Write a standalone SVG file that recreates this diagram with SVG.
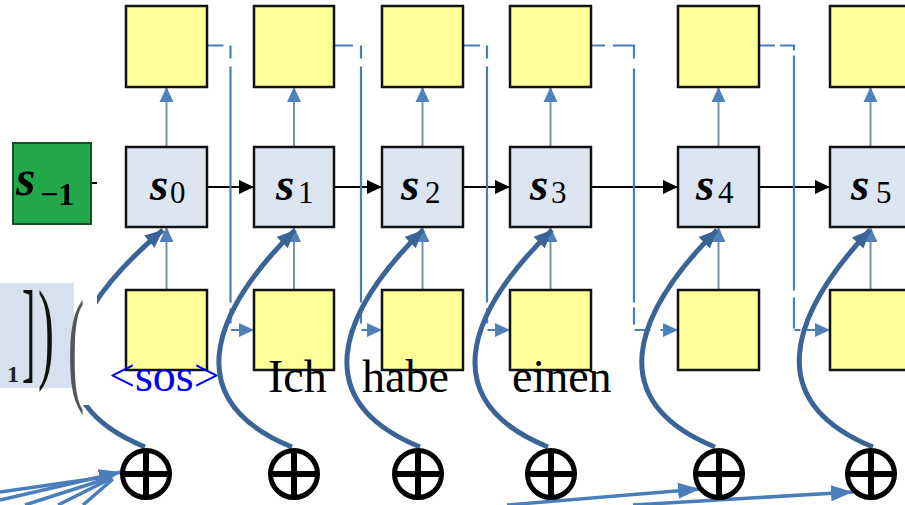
<svg xmlns="http://www.w3.org/2000/svg" width="905" height="505" viewBox="0 0 905 505">
<style>
.yb{fill:#FFFF99;stroke:#111;stroke-width:2.5}
.sb{fill:#DCE6F2;stroke:#111;stroke-width:2.5}
.si{font-family:"Liberation Serif",serif;font-weight:bold;font-style:italic;font-size:47px;fill:#000}
.sub{font-family:"Liberation Serif",serif;font-size:31px;fill:#000}
.word{font-family:"Liberation Serif",serif;font-size:46px;fill:#000}
.thin{stroke:#7A90AE;stroke-width:2;fill:none}
.dash{stroke:#4A7EBB;stroke-width:2.2;fill:none}
.blk{stroke:#000;stroke-width:2;fill:none}
.curve{stroke:#3B6496;stroke-width:5;fill:none}
.fan{stroke:#4A7EBB;stroke-width:3.5;fill:none}
.sum circle{fill:#fff;stroke:#000;stroke-width:5}
.sum line{stroke:#000;stroke-width:6}
</style>
<defs>
<marker id="aBlue" markerUnits="userSpaceOnUse" markerWidth="16" markerHeight="16" viewBox="0 0 16 16" refX="15" refY="8" orient="auto"><path d="M0,1 L15,8 L0,15 Z" fill="#4F81BD"/></marker>
<marker id="aBlk" markerUnits="userSpaceOnUse" markerWidth="16" markerHeight="16" viewBox="0 0 16 16" refX="15" refY="8" orient="auto"><path d="M0,1 L15,8 L0,15 Z" fill="#000"/></marker>
<marker id="aDark" markerUnits="userSpaceOnUse" markerWidth="20" markerHeight="18" viewBox="0 0 20 18" refX="18" refY="9" orient="auto"><path d="M0,1 L18,9 L0,17 Z" fill="#3B6496"/></marker>
<marker id="aFan" markerUnits="userSpaceOnUse" markerWidth="24" markerHeight="20" viewBox="0 0 24 20" refX="22" refY="10" orient="auto"><path d="M0,2 L22,10 L0,18 Z" fill="#4A7EBB"/></marker>
</defs>
<rect width="905" height="505" fill="#fff"/>

<g id="connectors">
  <line class="blk" x1="91" y1="183" x2="97" y2="183"/>
  <line class="blk" x1="207" y1="187" x2="254" y2="187" marker-end="url(#aBlk)"/>
  <line class="blk" x1="334" y1="187" x2="382" y2="187" marker-end="url(#aBlk)"/>
  <line class="blk" x1="463" y1="187" x2="510" y2="187" marker-end="url(#aBlk)"/>
  <line class="blk" x1="591" y1="187" x2="678" y2="187" marker-end="url(#aBlk)"/>
  <line class="blk" x1="759" y1="187" x2="830" y2="187" marker-end="url(#aBlk)"/>
  <line class="thin" x1="166.5" y1="290" x2="166.5" y2="227" marker-end="url(#aBlue)"/>
  <line class="thin" x1="294" y1="290" x2="294" y2="227" marker-end="url(#aBlue)"/>
  <line class="thin" x1="422.5" y1="290" x2="422.5" y2="227" marker-end="url(#aBlue)"/>
  <line class="thin" x1="550.5" y1="290" x2="550.5" y2="227" marker-end="url(#aBlue)"/>
  <line class="thin" x1="718.5" y1="290" x2="718.5" y2="227" marker-end="url(#aBlue)"/>
  <line class="thin" x1="870.5" y1="290" x2="870.5" y2="227" marker-end="url(#aBlue)"/>
  <line class="thin" x1="166.5" y1="147" x2="166.5" y2="87" marker-end="url(#aBlue)"/>
  <line class="thin" x1="294" y1="147" x2="294" y2="87" marker-end="url(#aBlue)"/>
  <line class="thin" x1="422.5" y1="147" x2="422.5" y2="87" marker-end="url(#aBlue)"/>
  <line class="thin" x1="550.5" y1="147" x2="550.5" y2="87" marker-end="url(#aBlue)"/>
  <line class="thin" x1="718.5" y1="147" x2="718.5" y2="87" marker-end="url(#aBlue)"/>
  <line class="thin" x1="870.5" y1="147" x2="870.5" y2="87" marker-end="url(#aBlue)"/>
  <path class="dash" d="M207,45.5 H230.5 V330 H254" stroke-dasharray="16.5 7 13 8 236 6 15 7 8 2 100" marker-end="url(#aBlue)"/>
  <path class="dash" d="M334,45.5 H361 V330 H382" stroke-dasharray="19 8 13 8 236 6 15 7 8 2 100" marker-end="url(#aBlue)"/>
  <path class="dash" d="M463,45.5 H487 V330 H510" stroke-dasharray="17 7 13 8 236 6 15 7 8 2 100" marker-end="url(#aBlue)"/>
  <path class="dash" d="M591,45.5 H634 V330 H678" stroke-dasharray="14 8 34 10 234 5 17 6 16 10 100" marker-end="url(#aBlue)"/>
  <path class="dash" d="M759,45.5 H794 V330 H830" stroke-dasharray="16 5 19 5 235 7 31 2 6 6 100" marker-end="url(#aBlue)"/>
  <path class="curve" d="M145,447 c-110,-45 -85,-130 18,-217" marker-end="url(#aDark)"/>
  <path class="curve" d="M292,447 c-110,-45 -85,-130 3,-217" marker-end="url(#aDark)"/>
  <path class="curve" d="M420,447 c-110,-45 -85,-130 3,-217" marker-end="url(#aDark)"/>
  <path class="curve" d="M548,447 c-110,-45 -85,-130 4,-217" marker-end="url(#aDark)"/>
  <path class="curve" d="M715,447 c-110,-45 -85,-130 2,-217" marker-end="url(#aDark)"/>
  <path class="curve" d="M873,447 c-110,-45 -85,-130 -3,-217" marker-end="url(#aDark)"/>
  <line class="fan" x1="0" y1="492" x2="112" y2="476"/>
  <line class="fan" x1="0" y1="500" x2="121" y2="472" marker-end="url(#aFan)"/>
  <line class="fan" x1="25" y1="505" x2="112" y2="477"/>
  <line class="fan" x1="58" y1="505" x2="112" y2="478"/>
  <line class="fan" x1="83" y1="505" x2="113" y2="479"/>
  <line class="fan" x1="507" y1="505" x2="700" y2="489" marker-end="url(#aFan)"/>
  <line class="fan" x1="633" y1="505" x2="853" y2="492" marker-end="url(#aFan)"/>
</g>

<g id="left-fragment">
  <rect x="0" y="236" width="97" height="169" fill="#fff"/>
  <rect x="0" y="283" width="74" height="105" fill="#D6E0EE"/>
  <text x="7" y="382" font-family="Liberation Serif, serif" font-weight="bold" font-size="24" fill="#222">1</text>
  <text transform="translate(22,368) scale(1,2.8)" font-family="Liberation Serif, serif" font-size="40" fill="#111">]</text>
  <text transform="translate(38,368) scale(1.2,2.8)" font-family="Liberation Serif, serif" font-size="40" fill="#111">)</text>
  <text transform="translate(68,388) scale(1.1,2.9)" font-family="Liberation Serif, serif" font-size="44" fill="#555">(</text>
</g>

<g id="s-1">
  <rect x="13" y="143" width="78" height="81" fill="#22A84A" stroke="#1B4D2A" stroke-width="2"/>
  <text x="16" y="195" class="si" style="font-size:50px">s</text>
  <text x="40" y="205" font-family="Liberation Serif, serif" font-weight="bold" font-size="32" fill="#000">−1</text>
</g>

<g id="out0"><rect class="yb" x="126" y="6" width="81" height="81"/></g>
<g id="out1"><rect class="yb" x="254" y="6" width="80" height="81"/></g>
<g id="out2"><rect class="yb" x="382" y="6" width="81" height="81"/></g>
<g id="out3"><rect class="yb" x="510" y="6" width="81" height="81"/></g>
<g id="out4"><rect class="yb" x="678" y="6" width="81" height="81"/></g>
<g id="out5"><rect class="yb" x="830" y="6" width="81" height="81"/></g>

<g id="s0"><rect class="sb" x="126" y="147" width="81" height="80"/><text y="200"><tspan class="si" x="150">s</tspan><tspan class="sub" x="170" y="203">0</tspan></text></g>
<g id="s1"><rect class="sb" x="254" y="147" width="80" height="80"/><text y="200"><tspan class="si" x="276">s</tspan><tspan class="sub" x="298" y="203">1</tspan></text></g>
<g id="s2"><rect class="sb" x="382" y="147" width="81" height="80"/><text y="200"><tspan class="si" x="401">s</tspan><tspan class="sub" x="425" y="203">2</tspan></text></g>
<g id="s3"><rect class="sb" x="510" y="147" width="81" height="80"/><text y="200"><tspan class="si" x="530">s</tspan><tspan class="sub" x="551" y="203">3</tspan></text></g>
<g id="s4"><rect class="sb" x="678" y="147" width="81" height="80"/><text y="200"><tspan class="si" x="696">s</tspan><tspan class="sub" x="718" y="203">4</tspan></text></g>
<g id="s5"><rect class="sb" x="830" y="147" width="81" height="80"/><text y="200"><tspan class="si" x="851">s</tspan><tspan class="sub" x="876" y="203">5</tspan></text></g>

<g id="in0"><rect class="yb" x="126" y="290" width="81" height="80"/></g>
<g id="in1"><rect class="yb" x="254" y="290" width="80" height="80"/></g>
<g id="in2"><rect class="yb" x="382" y="290" width="81" height="80"/></g>
<g id="in3"><rect class="yb" x="510" y="290" width="81" height="80"/></g>
<g id="in4"><rect class="yb" x="678" y="290" width="81" height="80"/></g>
<g id="in5"><rect class="yb" x="830" y="290" width="81" height="80"/></g>

<g id="words">
  <text x="109" y="391" class="word" style="fill:#0000EE">&lt;sos&gt;</text>
  <text x="268" y="392" class="word">Ich</text>
  <text x="362" y="392" class="word">habe</text>
  <text x="512" y="392" class="word">einen</text>
</g>

<g id="sum0" class="sum"><circle cx="146" cy="474" r="23.5"/><line x1="146" y1="450" x2="146" y2="498"/><line x1="122" y1="474" x2="170" y2="474"/></g>
<g id="sum1" class="sum"><circle cx="294" cy="474" r="23.5"/><line x1="294" y1="450" x2="294" y2="498"/><line x1="270" y1="474" x2="318" y2="474"/></g>
<g id="sum2" class="sum"><circle cx="418" cy="474" r="23.5"/><line x1="418" y1="450" x2="418" y2="498"/><line x1="394" y1="474" x2="442" y2="474"/></g>
<g id="sum3" class="sum"><circle cx="551" cy="474" r="23.5"/><line x1="551" y1="450" x2="551" y2="498"/><line x1="527" y1="474" x2="575" y2="474"/></g>
<g id="sum4" class="sum"><circle cx="719" cy="474" r="23.5"/><line x1="719" y1="450" x2="719" y2="498"/><line x1="695" y1="474" x2="743" y2="474"/></g>
<g id="sum5" class="sum"><circle cx="871" cy="474" r="23.5"/><line x1="871" y1="450" x2="871" y2="498"/><line x1="847" y1="474" x2="895" y2="474"/></g>
</svg>
